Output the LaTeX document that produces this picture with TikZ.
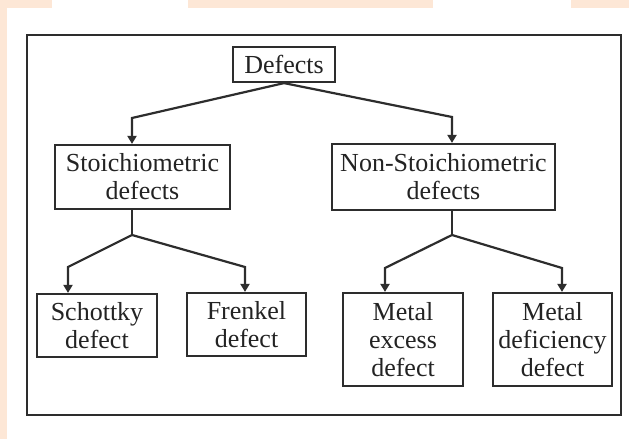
\documentclass[tikz,border=0pt]{standalone}
\usepackage{fontspec}
\setmainfont{Liberation Serif}
\usetikzlibrary{arrows.meta}
\definecolor{peach}{RGB}{253,231,214}
\definecolor{ink}{RGB}{45,45,45}
\definecolor{txt}{RGB}{35,35,35}
\begin{document}
\begin{tikzpicture}[x=1pt,y=-1pt,
  box/.style={draw=ink, line width=2.2pt, inner sep=0pt, align=center,
    text=txt, font=\fontsize{26}{28}\selectfont},
  conn/.style={draw=ink, line width=2.2pt},
  arr/.style={conn, -{Triangle[width=9pt,length=8pt]}}]
\useasboundingbox (0,0) rectangle (629,439);
\fill[white] (0,0) rectangle (629,439);
% peach stripes
\fill[peach] (0,0) rectangle (52,8);
\fill[peach] (188,0) rectangle (433,8);
\fill[peach] (571,0) rectangle (629,8);
\fill[peach] (0,0) rectangle (7,439);
% frame
\draw[ink, line width=2.3pt] (27,35) rectangle (621,415);
% nodes
\node[box, minimum width=102pt, minimum height=35pt] (def) at (284,64.5) {Defects};
\node[box, minimum width=175pt, minimum height=64pt] (st) at (142.5,177) {Stoichiometric\\defects};
\node[box, minimum width=223pt, minimum height=66pt] (ns) at (443.5,177) {Non-Stoichiometric\\defects};
\node[box, minimum width=120pt, minimum height=63pt] (sch) at (97,325.5) {Schottky\\defect};
\node[box, minimum width=119pt, minimum height=63pt] (fr) at (246.5,324.5) {Frenkel\\defect};
\node[box, minimum width=120pt, minimum height=93pt] (me) at (403,339.5) {Metal\\excess\\defect};
\node[box, minimum width=119pt, minimum height=93pt] (md) at (552.5,339.5) {Metal\\deficiency\\defect};
% corner coordinates
\coordinate (c1) at (132,118);
\coordinate (c2) at (452,117);
\coordinate (b1) at (132,235);
\coordinate (b2) at (452,235);
\coordinate (c3) at (68,267);
\coordinate (c4) at (245,267);
\coordinate (c5) at (385,268);
\coordinate (c6) at (562,268);
% connectors
\draw[arr] (def.south) -- (c1) -- (c1 |- st.north);
\draw[arr] (def.south) -- (c2) -- (c2 |- ns.north);
\draw[conn] (b1 |- st.south) -- (b1);
\draw[conn] (b2 |- ns.south) -- (b2);
\draw[arr] (b1) -- (c3) -- (c3 |- sch.north);
\draw[arr] (b1) -- (c4) -- (c4 |- fr.north);
\draw[arr] (b2) -- (c5) -- (c5 |- me.north);
\draw[arr] (b2) -- (c6) -- (c6 |- md.north);
\end{tikzpicture}
\end{document}
